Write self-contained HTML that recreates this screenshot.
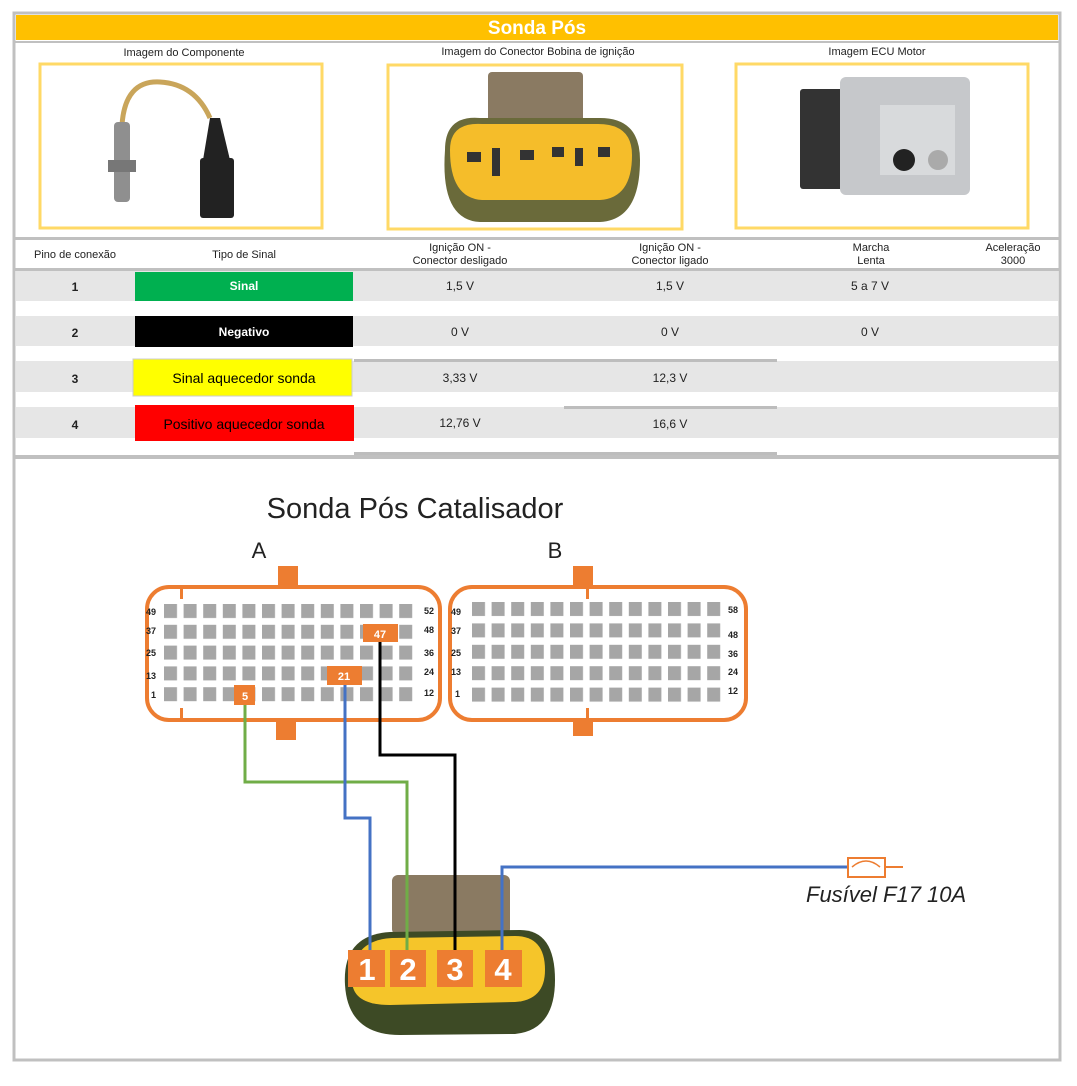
<!DOCTYPE html>
<html><head><meta charset="utf-8"><style>
body{margin:0;background:#fff;}
svg text{font-family:"Liberation Sans",sans-serif;}
</style></head><body>
<svg width="1077" height="1081" viewBox="0 0 1077 1081" xmlns="http://www.w3.org/2000/svg">
<defs>
<pattern id="pins" x="164" y="604" width="19.6" height="20.8" patternUnits="userSpaceOnUse"><rect x="0" y="0" width="13" height="14" fill="#a6a6a6"/></pattern>
<pattern id="pinsB" x="472" y="602" width="19.6" height="21.4" patternUnits="userSpaceOnUse"><rect x="0" y="0" width="13" height="14" fill="#a6a6a6"/></pattern>
</defs>
<rect x="0" y="0" width="1077" height="1081" fill="#fff"/>
<rect x="14" y="13" width="1046" height="1047" fill="none" stroke="#c0c0c0" stroke-width="3"/>
<rect x="16" y="15" width="1042" height="25" fill="#ffc000"/>
<text x="537" y="34" text-anchor="middle" font-size="19" font-weight="bold" fill="#fff">Sonda Pós</text>
<rect x="15" y="41" width="1044" height="2" fill="#c0c0c0"/>
<g font-size="11" fill="#222" text-anchor="middle">
<text x="184" y="56">Imagem do Componente</text>
<text x="538" y="55">Imagem do Conector Bobina de ignição</text>
<text x="877" y="55">Imagem ECU Motor</text>
</g>
<rect x="40" y="64" width="282" height="164" fill="none" stroke="#ffd966" stroke-width="3"/>
<rect x="388" y="65" width="294" height="164" fill="none" stroke="#ffd966" stroke-width="3"/>
<rect x="736" y="64" width="292" height="164" fill="none" stroke="#ffd966" stroke-width="3"/>
<!-- sensor -->
<path d="M122 125 Q125 80 160 82 Q195 84 210 118" fill="none" stroke="#c9a55a" stroke-width="5"/>
<rect x="114" y="122" width="16" height="80" rx="4" fill="#8f8f8f"/>
<rect x="108" y="160" width="28" height="12" fill="#777"/>
<path d="M210 118 L203 160 L230 160 L220 118 Z" fill="#222"/>
<rect x="200" y="158" width="34" height="60" rx="3" fill="#222"/>
<!-- connector photo -->
<rect x="488" y="72" width="95" height="50" rx="4" fill="#8a7a62"/>
<path d="M445 150 Q445 115 480 118 L600 118 Q640 118 640 160 Q640 220 600 222 L480 222 Q440 220 445 150Z" fill="#6a6a3a"/>
<path d="M450 150 Q450 122 482 124 L598 124 Q632 124 632 155 Q632 198 600 200 L482 200 Q450 198 450 150Z" fill="#f5bd2a"/>
<rect x="467" y="152" width="14" height="10" fill="#333"/><rect x="492" y="148" width="8" height="28" fill="#333"/>
<rect x="520" y="150" width="14" height="10" fill="#333"/><rect x="552" y="147" width="12" height="10" fill="#333"/><rect x="575" y="148" width="8" height="18" fill="#333"/><rect x="598" y="147" width="12" height="10" fill="#333"/>
<!-- ECU -->
<rect x="800" y="89" width="58" height="100" rx="3" fill="#333"/>
<rect x="840" y="77" width="130" height="118" rx="6" fill="#c6c8cb"/>
<rect x="880" y="105" width="75" height="70" fill="#d8dadc"/>
<circle x="0" cx="904" cy="160" r="11" fill="#222"/><circle cx="938" cy="160" r="10" fill="#aaa"/>
<!-- table -->
<rect x="15" y="237" width="1044" height="3" fill="#c0c0c0"/>
<g font-size="11" fill="#222" text-anchor="middle">
<text x="75" y="258">Pino de conexão</text>
<text x="244" y="258">Tipo de Sinal</text>
<text x="460" y="251">Ignição ON -</text><text x="460" y="264">Conector desligado</text>
<text x="670" y="251">Ignição ON -</text><text x="670" y="264">Conector ligado</text>
<text x="871" y="251">Marcha</text><text x="871" y="264">Lenta</text>
<text x="1013" y="251">Aceleração</text><text x="1013" y="264">3000</text>
</g>
<rect x="15" y="268" width="1044" height="3" fill="#c0c0c0"/>
<rect x="16" y="271" width="1042" height="30" fill="#e6e6e6"/>
<rect x="16" y="316" width="1042" height="30" fill="#e6e6e6"/>
<rect x="16" y="361" width="1042" height="31" fill="#e6e6e6"/>
<rect x="16" y="407" width="1042" height="31" fill="#e6e6e6"/>
<rect x="354" y="359" width="423" height="3" fill="#bdbdbd"/>
<rect x="564" y="406" width="213" height="3" fill="#bdbdbd"/>
<rect x="354" y="452" width="423" height="3" fill="#bdbdbd"/>
<rect x="15" y="455" width="1044" height="4" fill="#c0c0c0"/>
<rect x="135" y="272" width="218" height="29" fill="#00b050"/>
<rect x="135" y="316" width="218" height="31" fill="#000"/>
<rect x="133" y="359" width="219" height="37" fill="#ffff00" stroke="#ccc"/>
<rect x="135" y="405" width="219" height="36" fill="#ff0000"/>
<g font-size="12" text-anchor="middle">
<text x="244" y="290" fill="#fff" font-weight="bold">Sinal</text>
<text x="244" y="336" fill="#fff" font-weight="bold">Negativo</text>
<text x="244" y="383" fill="#000" font-size="14">Sinal aquecedor sonda</text>
<text x="244" y="429" fill="#000" font-size="14">Positivo aquecedor sonda</text>
<g font-weight="bold" fill="#222"><text x="75" y="291">1</text><text x="75" y="337">2</text><text x="75" y="383">3</text><text x="75" y="429">4</text></g>
<g fill="#222"><text x="460" y="290">1,5 V</text><text x="670" y="290">1,5 V</text><text x="870" y="290">5 a 7 V</text>
<text x="460" y="336">0 V</text><text x="670" y="336">0 V</text><text x="870" y="336">0 V</text>
<text x="460" y="382">3,33 V</text><text x="670" y="382">12,3 V</text>
<text x="460" y="427">12,76 V</text><text x="670" y="428">16,6 V</text></g>
</g>
<!-- diagram -->
<text x="415" y="518" text-anchor="middle" font-size="29" fill="#222">Sonda Pós Catalisador</text>
<text x="259" y="558" text-anchor="middle" font-size="22" fill="#222">A</text>
<text x="555" y="558" text-anchor="middle" font-size="22" fill="#222">B</text>
<g fill="#ed7d31">
<rect x="278" y="566" width="20" height="22"/><rect x="276" y="718" width="20" height="22"/>
<rect x="573" y="566" width="20" height="22"/><rect x="573" y="718" width="20" height="18"/>
</g>
<rect x="147" y="587" width="293" height="133" rx="22" fill="#fff" stroke="#ed7d31" stroke-width="4"/>
<rect x="450" y="587" width="296" height="133" rx="22" fill="#fff" stroke="#ed7d31" stroke-width="4"/>
<g fill="#ed7d31"><rect x="180" y="587" width="3" height="12"/><rect x="180" y="708" width="3" height="12"/><rect x="586" y="587" width="3" height="12"/><rect x="586" y="708" width="3" height="12"/></g>
<rect x="164" y="604" width="254" height="102" fill="url(#pins)"/>
<rect x="472" y="602" width="254" height="104" fill="url(#pinsB)"/>
<g font-size="9" font-weight="bold" fill="#222">
<text x="146" y="615">49</text><text x="146" y="634">37</text><text x="146" y="656">25</text><text x="146" y="679">13</text><text x="151" y="698">1</text>
<text x="424" y="614">52</text><text x="424" y="633">48</text><text x="424" y="656">36</text><text x="424" y="675">24</text><text x="424" y="696">12</text>
<text x="451" y="615">49</text><text x="451" y="634">37</text><text x="451" y="656">25</text><text x="451" y="675">13</text><text x="455" y="697">1</text>
<text x="728" y="613">58</text><text x="728" y="638">48</text><text x="728" y="657">36</text><text x="728" y="675">24</text><text x="728" y="694">12</text>
</g>
<g fill="#ed7d31"><rect x="363" y="624" width="35" height="18"/><rect x="327" y="666" width="35" height="19"/><rect x="234" y="685" width="21" height="20"/></g>
<g font-size="11" font-weight="bold" fill="#fff" text-anchor="middle"><text x="380" y="638">47</text><text x="344" y="680">21</text><text x="245" y="700">5</text></g>
<!-- bottom connector -->
<rect x="392" y="875" width="118" height="60" rx="6" fill="#8a7a62"/>
<path d="M345 985 Q342 935 390 932 L520 930 Q555 930 555 980 Q555 1030 515 1034 L400 1035 Q348 1035 345 985Z" fill="#3d4a25"/>
<path d="M352 980 Q352 940 392 938 L515 936 Q545 936 545 970 Q545 1000 515 1002 L390 1005 Q352 1005 352 980Z" fill="#f5c52a"/>
<g fill="none" stroke-width="3">
<polyline points="245,705 245,782 407,782 407,955" stroke="#70ad47"/>
<polyline points="345,685 345,818 370,818 370,955" stroke="#4472c4"/>
<polyline points="380,642 380,755 455,755 455,955" stroke="#000"/>
<polyline points="502,955 502,867 848,867" stroke="#4472c4"/>
<line x1="885" y1="867" x2="903" y2="867" stroke="#ed7d31" stroke-width="2"/>
</g>
<rect x="848" y="858" width="37" height="19" fill="#fff" stroke="#ed7d31" stroke-width="2"/>
<path d="M852 867 Q866 855 880 867" fill="none" stroke="#ed7d31" stroke-width="1.5"/>
<text x="806" y="902" font-size="22" font-style="italic" fill="#222">Fusível F17 10A</text>
<g fill="#ed7d31"><rect x="348" y="950" width="37" height="37"/><rect x="390" y="950" width="36" height="37"/><rect x="437" y="950" width="36" height="37"/><rect x="485" y="950" width="37" height="37"/></g>
<g font-size="31" font-weight="bold" fill="#fff" text-anchor="middle"><text x="367" y="980">1</text><text x="408" y="980">2</text><text x="455" y="980">3</text><text x="503" y="980">4</text></g>
</svg>
</body></html>
